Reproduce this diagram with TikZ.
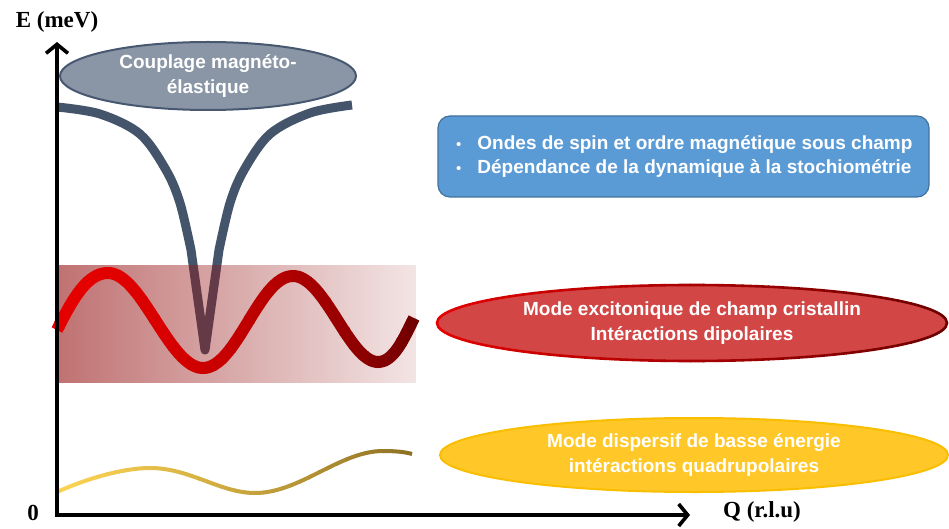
\documentclass[tikz,border=0pt]{standalone}
\usepackage{fontspec}
\setmainfont{Liberation Sans}
\newfontfamily\serifb{Liberation Serif}
\usetikzlibrary{shapes.geometric,fadings,arrows.meta}
\definecolor{slate}{RGB}{68,84,106}
\definecolor{slateedge}{RGB}{72,88,112}
\definecolor{slatefill}{RGB}{138,150,166}
\definecolor{wred}{RGB}{230,0,0}
\definecolor{wdark}{RGB}{110,0,0}
\definecolor{pinkbase}{RGB}{150,20,20}
\definecolor{ylight}{RGB}{252,212,84}
\definecolor{ydark}{RGB}{140,112,36}
\definecolor{bluefill}{RGB}{91,155,213}
\definecolor{blueedge}{RGB}{65,113,156}
\definecolor{redfill}{RGB}{210,70,70}
\definecolor{yellowfill}{RGB}{255,200,40}
\definecolor{yellowedge}{RGB}{250,190,0}
\tikzfading[name=pinkfade, left color=transparent!40, right color=transparent!89]
% #1 path, #2 colour A, #3 colour B, #4 xmin, #5 xmax, #6 width, #7 exponent
\newcommand{\gradstroke}[7]{%
  \foreach \k in {0,...,39}{%
    \pgfmathsetmacro\xa{#4+(#5-#4)/40*\k}%
    \pgfmathsetmacro\xb{#4+(#5-#4)/40*(\k+1)+0.6}%
    \pgfmathtruncatemacro\pp{100-100*(\k/39)^#7}%
    \begin{scope}
      \clip (\xa,0) rectangle (\xb,529);
      \draw[line width=#6, color=#2!\pp!#3] #1;
    \end{scope}
  }}
\def\redwave{(57,330) .. controls (74,296) and (88,273) .. (108,273) .. controls (142,273) and (169,368) .. (203,368) .. controls (237,368) and (259,276) .. (293,276) .. controls (325,276) and (349,362) .. (378,362) .. controls (394,362) and (404,338) .. (414,318)}
\def\yellowwave{(57,492) .. controls (88,478) and (124,468) .. (150,468) .. controls (190,468) and (220,493) .. (255,493) .. controls (300,493) and (340,451) .. (383,451) .. controls (396,451) and (405,452) .. (412,454)}
\def\redrim{(437,323) .. controls (437,302) and (551.2,285) .. (692,285) .. controls (832.8,285) and (947,302) .. (947,323) .. controls (947,344) and (832.8,361) .. (692,361) .. controls (551.2,361) and (437,344) .. (437,323) -- cycle}
\begin{document}
\begin{tikzpicture}[x=1pt,y=-1pt,
  bodytext/.style={text=white, font=\fontsize{19}{25}\selectfont\bfseries, align=center},
  axislabel/.style={font=\serifb\fontsize{23}{26}\selectfont\bfseries, inner sep=0pt},
  axisline/.style={line width=3.6pt, -{Straight Barb[length=9pt,width=22pt,line width=3.6pt]}},
  ellbox/.style={ellipse, inner sep=0pt}]
\useasboundingbox (0,0) rectangle (949,529);
\fill[white] (0,0) rectangle (949,529);

% magneto-elastic curve
\draw[slate, line width=9pt, line join=round]
  plot[smooth, tension=0.55] coordinates {(57,107) (100,114) (140,134) (166,170) (180,203) (191,250)} -- (205,350)
  -- (219,250) plot[smooth, tension=0.55] coordinates {(219,250) (230,203) (244,170) (270,134) (310,113) (352,105)};

% pink band
\fill[pinkbase, path fading=pinkfade] (57,265) rectangle (416,383);

% red wave with gradient
\gradstroke{\redwave}{wred}{wdark}{45}{425}{12pt}{1.8}

% yellow wave with gradient
\gradstroke{\yellowwave}{ylight}{ydark}{50}{420}{4pt}{1.2}

% axes
\coordinate (orig) at (57,515);
\coordinate (ytip) at (57,42);
\coordinate (xtip) at (690,515);
\draw[axisline] (57,517) -- (ytip);
\draw[axisline] (55,515) -- (xtip);
\node[axislabel] (elabel) at (57,22) {E (meV)};
\node[axislabel] (zero) at (33,513) {0};
\node[axislabel] (qlabel) at (762,512) {Q (r.l.u)};

% grey ellipse
\node[ellbox, fill=slatefill, draw=slateedge, line width=2pt, minimum width=296pt, minimum height=68pt,
  bodytext] (magel) at (208,76) {Couplage magnéto-\\élastique};

% blue box
\node[draw=blueedge, fill=bluefill, line width=1.2pt, rounded corners=12pt, minimum width=491pt,
  minimum height=81pt, inner sep=0pt] (bluebox) at (683.5,156.5) {};
\node[text=white, font=\fontsize{19}{23.5}\selectfont\bfseries, align=left, anchor=west, inner sep=0pt]
  (bluetext) at (456,156.5) {{\mdseries\fontsize{15}{23.5}\selectfont•}\hspace{16pt}Ondes de spin et ordre magnétique sous champ\\{\mdseries\fontsize{15}{23.5}\selectfont•}\hspace{16pt}Dépendance de la dynamique à la stochiométrie};

% red ellipse
\node[ellbox, fill=redfill, minimum width=510pt, minimum height=76pt] (redel) at (692,323) {};
\gradstroke{\redrim}{wred}{wdark}{430}{950}{2.6pt}{1}
\node[bodytext] (redtext) at (redel.center) {Mode excitonique de champ cristallin\\Intéractions dipolaires};

% yellow ellipse
\node[ellbox, fill=yellowfill, draw=yellowedge, line width=2pt, minimum width=508pt, minimum height=74pt] (yelel) at (694,455) {};
\node[bodytext] (yeltext) at (yelel.center) {Mode dispersif de basse énergie\\intéractions quadrupolaires};
\end{tikzpicture}
\end{document}
